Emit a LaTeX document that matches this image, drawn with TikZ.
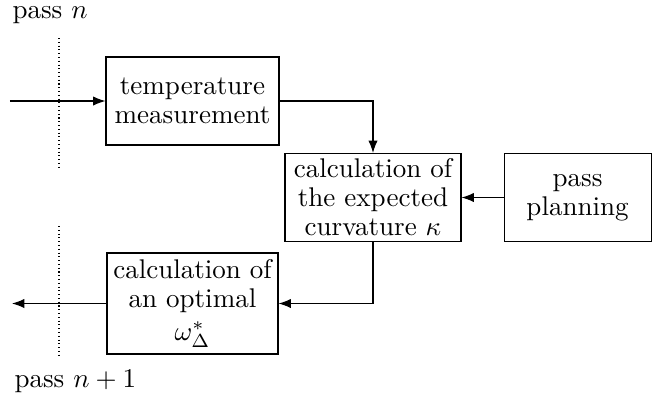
\documentclass[tikz,border=0pt]{standalone}
\usepackage{amsmath,amssymb}
\usetikzlibrary{arrows.meta,positioning}
\tikzset{blk/.style={draw,align=center,minimum height=1.144cm,inner sep=2pt,font=\fontsize{10}{10.7}\selectfont},arr/.style={-{Latex[length=1.6mm,width=1.2mm]}},sep/.style={densely dotted}}
\begin{document}
\begin{tikzpicture}[x=0.013cm,y=-0.013cm]
\useasboundingbox (0,0) rectangle (659,397);
\node[blk,minimum width=2.249cm] (temp) at (192.5,101) {temperature\\measurement};
\node[blk,minimum width=2.288cm] (curv) at (373,197.5) {calculation of\\the expected\\curvature $\kappa$};
\node[blk,minimum width=1.911cm,right=0.546cm of curv] (plan) {pass\\planning};
\node[blk,minimum width=2.223cm,minimum height=1.313cm] (opt) at (192.5,303.5) {calculation of\\an optimal\\[1.5pt]$\omega_\Delta^{*}$};
\coordinate (in) at (10,101);\coordinate (out) at (12,303.5);
\node[anchor=west,inner sep=0pt] (pn) at (12,15) {pass $n$};
\node[anchor=west,inner sep=0pt] (pn1) at (14,381) {pass $n+1$};
\coordinate (d1) at (59,38);\coordinate (d2) at (59,167);\coordinate (d3) at (59,226);\coordinate (d4) at (59,356);
\draw[sep] (d1)--(d2);\draw[sep] (d3)--(d4);
\draw[arr] (in)--(temp.west);\draw[arr] (temp.east)-|(curv.north);\draw[arr] (plan.west)--(curv.east);
\draw[arr] (curv.south)|-(opt.east);\draw[arr] (opt.west)--(out);
\end{tikzpicture}
\end{document}
